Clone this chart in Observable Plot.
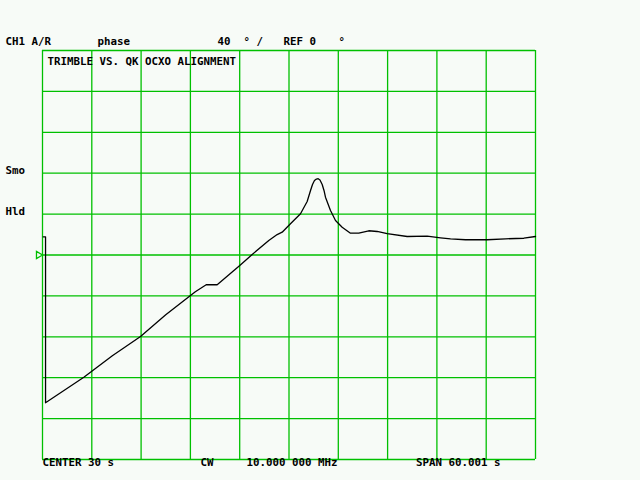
<!DOCTYPE html>
<html>
<head>
<meta charset="utf-8">
<script src="https://cdn.jsdelivr.net/npm/d3@7"></script>
<script src="https://cdn.jsdelivr.net/npm/@observablehq/plot@0.6"></script>
<style>
  html, body { margin: 0; padding: 0; background: #f7fbf7; }
  #chart svg { display: block; }
</style>
</head>
<body>
<div id="chart"></div>
<script>
// ---- data (time in s, phase in degrees) ----
const time = [0.09, 0.37, 0.37, 5.03, 8.5, 11.93, 15.0, 18.01, 18.6, 19.92, 21.26, 24.01, 25.52, 27.54, 28.56, 29.17, 30.18, 31.40, 32.21, 32.62, 32.86, 33.10, 33.34, 33.55, 33.77, 34.04, 34.26, 34.44, 35.05, 35.66, 36.47, 37.48, 38.49, 39.71, 40.73, 41.95, 44.38, 46.82, 48.44, 49.66, 51.48, 54.12, 56.35, 58.58, 60.0];
const phase = [17.8, 17.8, -144.5, -119.5, -98.5, -79.7, -58.5, -39.6, -36.0, -29.1, -29.1, -10.3, 0.5, 14.2, 20.0, 22.3, 30.5, 40.3, 52.3, 63.1, 68.9, 72.8, 74.3, 74.6, 73.4, 68.9, 63.1, 56.5, 43.5, 33.7, 27.2, 21.3, 21.3, 23.7, 23.0, 21.0, 18.1, 18.4, 16.8, 15.8, 14.9, 14.9, 15.8, 16.4, 18.1];
const xGrid = [0, 6, 12, 18, 24, 30, 36, 42, 48, 54, 60];
const yGrid = [-200, -160, -120, -80, -40, 0, 40, 80, 120, 160, 200];
const refLevel = [0];
const headerLabels = ["CH1 A/R", "phase", "40  ° /", "REF 0", "°"];
const titleLabel = "TRIMBLE VS. QK OCXO ALIGNMENT";
const sideLabels = ["Smo", "Hld"];
const footerLabels = ["CENTER 30 s", "CW", "10.000 000 MHz", "SPAN 60.001 s"];

// ---- layout (pixel offsets relative to the plot frame) ----
const headerDx = [-37, 55, 175, 241, 296];
const sideDy = [115.6, 156.6];
const footerDx = [0, 158, 204, 373.5];

const trace = time.map((t, i) => ({t, p: phase[i]}));
const green = "#00c000";
const font = {fontFamily: "DejaVu Sans Mono", fontWeight: "bold", fontSize: 10.8, fill: "#000", textAnchor: "start"};

const marks = [
  Plot.ruleX(xGrid, {x: d => d, stroke: green, strokeWidth: 1.3, strokeOpacity: 1}),
  Plot.ruleY(yGrid, {y: d => d, stroke: green, strokeWidth: 1.3, strokeOpacity: 1}),
  Plot.dot(refLevel, {x: () => 0, y: d => d, symbol: "triangle", rotate: 90, r: 2.6, dx: -4, stroke: green, strokeWidth: 1.3, fill: "none"}),
  Plot.line(trace, {x: "t", y: "p", stroke: "#000", strokeWidth: 1.3, curve: "linear"}),
  Plot.text([titleLabel], {text: d => d, frameAnchor: "top-left", dx: 5, dy: 6.9, ...font})
];
headerLabels.forEach((s, i) => marks.push(Plot.text([s], {text: d => d, frameAnchor: "top-left", dx: headerDx[i], dy: -13.4, ...font})));
sideLabels.forEach((s, i) => marks.push(Plot.text([s], {text: d => d, frameAnchor: "top-left", dx: -37, dy: sideDy[i], ...font})));
footerLabels.forEach((s, i) => marks.push(Plot.text([s], {text: d => d, frameAnchor: "bottom-left", dx: footerDx[i], dy: 6.8, ...font})));

const chart = Plot.plot({
  width: 640,
  height: 480,
  marginLeft: 42,
  marginRight: 105,
  marginTop: 50,
  marginBottom: 21,
  x: {domain: [0, 60], axis: null},
  y: {domain: [-200, 200], axis: null},
  style: {background: "#f7fbf7", overflow: "visible"},
  marks
});
document.getElementById("chart").appendChild(chart);
</script>
</body>
</html>
